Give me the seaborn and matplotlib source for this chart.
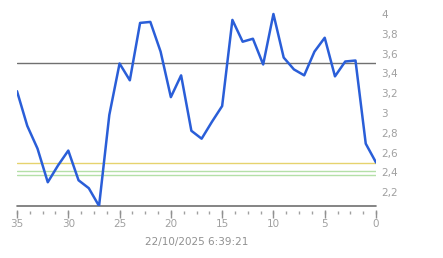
import matplotlib
matplotlib.use("Agg")
import matplotlib.pyplot as plt
import seaborn as sns
import pandas as pd
import numpy as np
from matplotlib.ticker import MultipleLocator, FuncFormatter, NullFormatter

# ---- data ----
x_vals = list(range(35, -1, -1))
y_vals = [3.22, 2.87, 2.64, 2.30, 2.47, 2.62, 2.32, 2.24, 2.06, 2.98,
          3.50, 3.33, 3.91, 3.92, 3.62, 3.16, 3.38, 2.82, 2.74, 2.91,
          3.07, 3.94, 3.72, 3.75, 3.49, 4.00, 3.56, 3.44, 3.38, 3.62,
          3.76, 3.37, 3.52, 3.53, 2.69, 2.50]
ref_levels = [3.5, 2.49, 2.41, 2.37]
ref_colors = ["#707070", "#e6d36e", "#b4e0a8", "#b4e0a8"]
x_label = "22/10/2025 6:39:21"
y_ticks = [2.2, 2.4, 2.6, 2.8, 3.0, 3.2, 3.4, 3.6, 3.8, 4.0]
x_ticks = [35, 30, 25, 20, 15, 10, 5, 0]

df = pd.DataFrame({"x": x_vals, "y": y_vals})

sns.set_style("white")
plt.rcParams['font.family'] = ['DejaVu Sans']

W, H = 443, 258
fig = plt.figure(figsize=(W / 100, H / 100), dpi=100)
left, right = 17, 376
top, bottom = 5, 206.3
ax_h = bottom - top
ax = fig.add_axes([left / W, (H - bottom) / H, (right - left) / W, ax_h / H])

ymin = 2.057
ymax = 4 + (14 - top) / 99.0

for lvl, c in zip(ref_levels, ref_colors):
    ax.axhline(lvl, color=c, lw=1.0, zorder=1)

sns.lineplot(data=df, x="x", y="y", ax=ax, color="#2a5ed8", lw=1.8, zorder=3)

ax.set_xlim(35, 0)
ax.set_ylim(ymin, ymax)
ax.axhline(ymin, color="#707070", lw=1.2, zorder=2, clip_on=False)

for s in ["top", "left", "right"]:
    ax.spines[s].set_visible(False)
ax.spines["bottom"].set_position(("outward", 3))
ax.spines["bottom"].set_visible(False)

ax.yaxis.tick_right()
ax.set_yticks(y_ticks)
ax.yaxis.set_major_formatter(FuncFormatter(lambda v, p: ("%g" % round(v, 1)).replace(".", ",")))
ax.tick_params(axis="y", length=0, pad=4, labelsize=7.5, labelcolor="#a0a0a0")

ax.set_xticks(x_ticks)
ax.tick_params(axis="x", which="major", direction="out", length=6, width=1, color="#909090",
               pad=0, labelsize=7.5, labelcolor="#a0a0a0", bottom=True)

# minor tick dots, detached from the axis line
sec = ax.secondary_xaxis(-5.0 / ax_h)
sec.spines["bottom"].set_visible(False)
sec.xaxis.set_major_locator(MultipleLocator(1.25))
sec.xaxis.set_major_formatter(NullFormatter())
sec.tick_params(axis="x", direction="out", length=2, width=1, color="#a0a0a0")

ax.set_xlabel(x_label, fontsize=7.5, color="#909090", labelpad=6)
ax.set_ylabel("")
ax.grid(False)

fig.savefig("out.png", dpi=100)
